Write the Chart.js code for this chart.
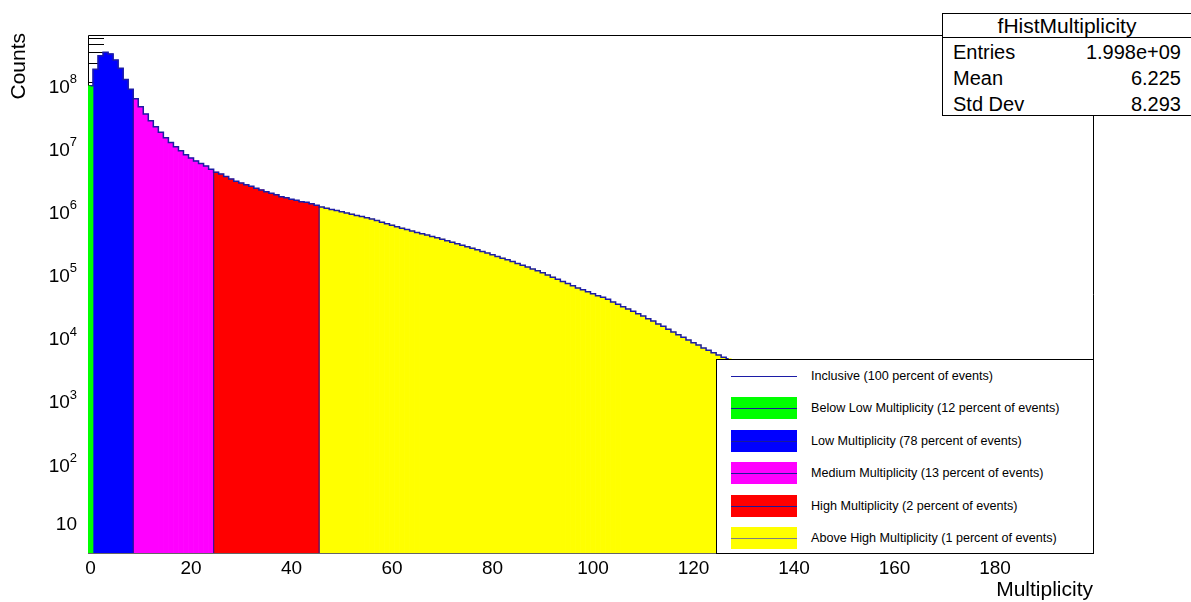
<!DOCTYPE html>
<html>
<head>
<meta charset="utf-8">
<script src="https://cdn.jsdelivr.net/npm/chart.js@4.4.0/dist/chart.umd.min.js"></script>
<style>
body { margin: 0; background: #fff; font-family: "Liberation Sans", Arial, sans-serif; }
#wrap { position: relative; width: 1191px; height: 602px; }
#stats { position: absolute; left: 942px; top: 13px; width: 249px; height: 103px; border: 1px solid #000; border-right: none; background: #fff; box-sizing: border-box; font-size: 20px; color: #000; }
#stats .title { height: 23px; line-height: 24px; font-size: 21px; text-align: center; border-bottom: 1px solid #000; }
#stats .row { height: 26px; line-height: 28px; padding: 0 10px 0 10px; display: flex; justify-content: space-between; }
#legend { position: absolute; left: 716px; top: 359px; width: 378px; height: 195px; border: 1px solid #000; background: #fff; box-sizing: border-box; font-size: 12.6px; color: #000; }
#legend .item { position: absolute; left: 0; height: 24px; width: 100%; }
#legend .swatch { position: absolute; left: 14px; top: 1px; width: 66px; height: 22px; }
#legend .swatch i { position: absolute; left: 0; right: 0; top: 11px; height: 1px; }
#legend .txt { position: absolute; left: 94px; top: 0; line-height: 24px; white-space: nowrap; }
</style>
</head>
<body>
<div id="wrap">
  <canvas id="hist_chart" width="1191" height="602"></canvas>
  <div id="stats"></div>
  <div id="legend"></div>
</div>
<script>
// counts per multiplicity bin (bin i centred on i)
var counts = [
  8.8e7, 1.61e8, 2.64e8, 2.98e8, 2.81e8, 2.25e8, 1.66e8, 1.11e8, 7.74e7,
  5.50e7, 4.11e7, 3.15e7, 2.47e7, 1.98e7, 1.62e7, 1.33e7, 1.11e7, 9.57e6, 8.26e6,
  7.14e6, 6.34e6, 5.69e6, 5.19e6, 4.73e6, 4.20e6,
  3.78e6, 3.54e6, 3.22e6, 2.95e6, 2.71e6, 2.55e6, 2.40e6, 2.26e6, 2.10e6, 1.98e6,
  1.86e6, 1.75e6, 1.66e6, 1.55e6, 1.49e6, 1.41e6, 1.36e6, 1.29e6, 1.26e6, 1.20e6, 1.13e6,
  1.064e6, 1.018e6, 9.74e5, 9.33e5, 8.93e5, 8.55e5, 8.18e5, 7.83e5, 7.50e5, 7.18e5,
  6.85e5, 6.48e5, 6.12e5, 5.77e5, 5.48e5, 5.19e5, 4.91e5, 4.67e5, 4.42e5, 4.21e5,
  4.00e5, 3.82e5, 3.63e5, 3.46e5, 3.29e5, 3.12e5, 2.95e5, 2.79e5, 2.64e5, 2.50e5,
  2.37e5, 2.24e5, 2.10e5, 1.98e5, 1.86e5, 1.75e5, 1.65e5, 1.55e5, 1.46e5, 1.36e5,
  1.27e5, 1.19e5, 1.11e5, 1.04e5, 9.67e4, 8.93e4, 8.24e4, 7.63e4, 7.05e4, 6.53e4,
  6.02e4, 5.58e4, 5.21e4, 4.84e4, 4.52e4, 4.20e4, 3.96e4, 3.68e4, 3.34e4, 3.07e4,
  2.81e4, 2.59e4, 2.38e4, 2.18e4, 2.00e4, 1.82e4, 1.67e4, 1.50e4, 1.38e4, 1.24e4,
  1.12e4, 1.01e4, 9.23e3, 8.36e3, 7.59e3, 6.97e3, 6.25e3, 5.74e3, 5.26e3, 4.84e3,
  4.46e3, 4.23e3
];

var regionNames = [
  'Below Low Multiplicity (12 percent of events)',
  'Low Multiplicity (78 percent of events)',
  'Medium Multiplicity (13 percent of events)',
  'High Multiplicity (2 percent of events)',
  'Above High Multiplicity (1 percent of events)'
];
var regionFirstBin = [0, 1, 9, 25, 46];
var regionLastBin = [0, 8, 24, 45, 127];
var inclusiveName = 'Inclusive (100 percent of events)';

var xTicks = [0, 20, 40, 60, 80, 100, 120, 140, 160, 180];
var yTickExps = [1, 2, 3, 4, 5, 6, 7, 8];

var statsTitle = 'fHistMultiplicity';
var statsLabels = ['Entries', 'Mean', 'Std Dev'];
var statsValues = ['1.998e+09', '6.225', '8.293'];

// styles
var regionColors = ['#00ff00', '#0000ff', '#ff00ff', '#ff0000', '#ffff00'];
var regionLineColors = ['#1a1a9a', '#1a1a9a', '#1a1a9a', '#1a1a9a', '#808080'];
var outlineColor = '#1c1ca6';
var FONT = '"Liberation Sans", Arial, sans-serif';

var datasets = [];
regionNames.forEach(function(name, r) {
    var pts = [];
    for (var i = regionFirstBin[r]; i <= regionLastBin[r]; i++) {
        pts.push({ x: i, y: counts[i] });
    }
    datasets.push({
        type: 'bar',
        label: name,
        data: pts,
        backgroundColor: regionColors[r],
        borderWidth: 0,
        barPercentage: 1,
        categoryPercentage: 1,
        grouped: false,
        order: 2
    });
});
datasets.push({
    type: 'line',
    label: inclusiveName,
    data: counts.map(function(c, i) { return { x: i, y: c }; }),
    stepped: 'middle',
    borderColor: outlineColor,
    borderWidth: 1.5,
    pointRadius: 0,
    fill: false,
    order: 0
});

var rootAxes = {
    id: 'rootAxes',
    beforeDatasetsDraw: function(chart) {
        var ctx = chart.ctx, a = chart.chartArea;
        var ys = chart.scales.y, xs = chart.scales.x;
        ctx.save();
        ctx.strokeStyle = '#000';
        ctx.lineWidth = 1;
        ctx.beginPath();
        ctx.moveTo(a.left + 0.5, a.bottom);
        ctx.lineTo(a.left + 0.5, a.top + 0.5);
        ctx.lineTo(a.right + 0.5, a.top + 0.5);
        ctx.lineTo(a.right + 0.5, a.bottom);
        ctx.stroke();
        // log ticks pointing inwards
        ctx.beginPath();
        for (var e = 0; e <= 8; e++) {
            for (var m = 1; m <= 9; m++) {
                var v = m * Math.pow(10, e);
                if (v < ys.min || v > ys.max) continue;
                var py = Math.round(ys.getPixelForValue(v)) + 0.5;
                ctx.moveTo(a.left, py);
                ctx.lineTo(a.left + (m === 1 ? 30 : 16), py);
            }
        }
        for (var t = 0; t <= 199; t++) {
            var px = Math.round(xs.getPixelForValue(t)) + 0.5;
            ctx.moveTo(px, a.bottom);
            ctx.lineTo(px, a.bottom - (t % 20 === 0 ? 15 : (t % 5 === 0 ? 8 : 0)));
        }
        ctx.stroke();
        ctx.restore();
    },
    afterDatasetsDraw: function(chart) {
        var ctx = chart.ctx, a = chart.chartArea;
        var ys = chart.scales.y, xs = chart.scales.x;
        ctx.save();
        // region edges
        ctx.strokeStyle = 'rgba(40,20,140,0.9)';
        ctx.lineWidth = 1.2;
        for (var r = 2; r < regionFirstBin.length; r++) {
            var b = regionFirstBin[r];
            var px = xs.getPixelForValue(b - 0.5);
            ctx.beginPath();
            ctx.moveTo(px, ys.getPixelForValue(Math.min(counts[b - 1], counts[b])));
            ctx.lineTo(px, a.bottom);
            ctx.stroke();
        }
        ctx.strokeStyle = '#666';
        ctx.lineWidth = 1;
        ctx.beginPath();
        ctx.moveTo(a.left, a.bottom + 0.5);
        ctx.lineTo(a.right + 1, a.bottom + 0.5);
        ctx.stroke();

        // tick labels
        ctx.fillStyle = '#000';
        ctx.textBaseline = 'middle';
        yTickExps.forEach(function(n) {
            var py = ys.getPixelForValue(Math.pow(10, n));
            ctx.textAlign = 'right';
            if (n === 1) {
                ctx.font = '19px ' + FONT;
                ctx.fillText('10', 77, py);
            } else {
                ctx.font = '13px ' + FONT;
                var sw = ctx.measureText(String(n)).width;
                ctx.fillText(String(n), 77, py - 3);
                ctx.font = '19px ' + FONT;
                ctx.fillText('10', 77 - sw, py + 5);
            }
        });
        ctx.textAlign = 'center';
        ctx.font = '19px ' + FONT;
        xTicks.forEach(function(v) {
            ctx.fillText(String(v), xs.getPixelForValue(v), 569);
        });

        // axis titles
        ctx.font = '21px ' + FONT;
        ctx.textAlign = 'right';
        ctx.fillText('Multiplicity', a.right, 590);
        ctx.translate(19, 33);
        ctx.rotate(-Math.PI / 2);
        ctx.fillText('Counts', 0, 0);
        ctx.restore();
    }
};

new Chart(document.getElementById('hist_chart'), {
    data: { datasets: datasets },
    options: {
        responsive: false,
        animation: false,
        events: [],
        layout: { padding: { left: 88, right: 98, top: 35, bottom: 49 } },
        plugins: { legend: { display: false }, tooltip: { enabled: false } },
        scales: {
            x: { type: 'linear', min: -0.5, max: 199.5, offset: false, display: false },
            y: { type: 'logarithmic', min: 3.56, max: 5.6e8, display: false }
        }
    },
    plugins: [rootAxes]
});

// stats box
var stats = document.getElementById('stats');
var html = '<div class="title">' + statsTitle + '</div>';
statsLabels.forEach(function(l, i) {
    html += '<div class="row"><span>' + l + '</span><span>' + statsValues[i] + '</span></div>';
});
stats.innerHTML = html;

// legend
var legend = document.getElementById('legend');
var rowTop = [4, 36.4, 68.8, 101.2, 133.6, 166];
var lh = '<div class="item" style="top:' + rowTop[0] + 'px"><div class="swatch" style="background:none"><i style="background:' + outlineColor + '"></i></div><div class="txt">' + inclusiveName + '</div></div>';
regionNames.forEach(function(name, r) {
    lh += '<div class="item" style="top:' + rowTop[r + 1] + 'px"><div class="swatch" style="background:' + regionColors[r] + '"><i style="background:' + regionLineColors[r] + '"></i></div><div class="txt">' + name + '</div></div>';
});
legend.innerHTML = lh;
</script>
</body>
</html>
